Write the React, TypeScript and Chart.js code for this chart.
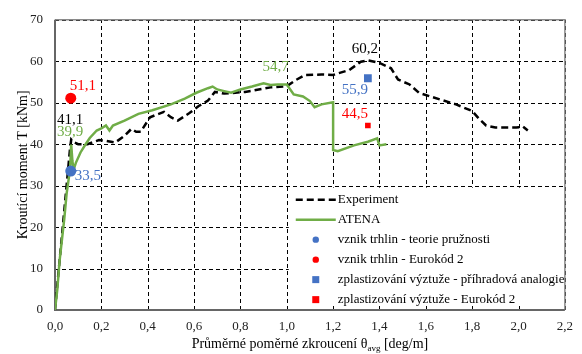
import { useEffect, useRef } from "react";
import { Chart, registerables } from "chart.js";

Chart.register(...registerables);

// ---- data ----
const experimentX = [0, 0.02, 0.04, 0.055, 0.065, 0.07, 0.08, 0.1, 0.14, 0.19, 0.22, 0.26, 0.3, 0.33, 0.35, 0.37, 0.41, 0.47, 0.5, 0.53, 0.58, 0.62, 0.66, 0.69, 0.73, 0.82, 0.93, 1.0, 1.04, 1.08, 1.15, 1.2, 1.27, 1.32, 1.35, 1.4, 1.45, 1.48, 1.53, 1.57, 1.62, 1.66, 1.73, 1.8, 1.83, 1.86, 1.9, 1.99, 2.02, 2.04];
const experimentY = [0, 12, 24, 33, 39, 41.1, 40.5, 40, 40, 41, 40.8, 40.4, 42, 43.7, 43, 43, 46.5, 47.8, 46.5, 45.7, 47.5, 49.2, 50.5, 52.6, 52.2, 52.6, 53.7, 54, 55.5, 56.7, 56.8, 56.7, 57.9, 59.9, 60.2, 59.6, 58.3, 55.6, 54.4, 52.4, 51.5, 50.8, 49.6, 48, 46.1, 44.5, 44, 44, 44.2, 43.3];

const atenaX = [0, 0.01, 0.02, 0.03, 0.04, 0.05, 0.06, 0.065, 0.07, 0.075, 0.08, 0.09, 0.11, 0.13, 0.15, 0.18, 0.2, 0.22, 0.235, 0.25, 0.3, 0.36, 0.42, 0.5, 0.56, 0.61, 0.66, 0.68, 0.7, 0.73, 0.76, 0.8, 0.85, 0.9, 0.93, 0.96, 1.0, 1.03, 1.07, 1.1, 1.12, 1.15, 1.2, 1.2, 1.22, 1.29, 1.35, 1.39, 1.4, 1.43];
const atenaY = [0, 5, 12, 17, 22, 28, 32, 34, 39.9, 36, 33.8, 35.5, 38, 39.8, 41.5, 43.3, 43.8, 44.5, 43.3, 44.5, 45.7, 47.3, 48.2, 49.6, 51, 52.4, 53.5, 53.9, 53.2, 52.8, 52.4, 53.2, 53.9, 54.7, 54.3, 54.4, 54.4, 52, 51.5, 50.4, 48.9, 49.6, 50.1, 38.6, 38.3, 39.7, 40.6, 41.4, 39.7, 40];

const seriesNames = ["Experiment", "ATENA"];
const markerNames = [
  "vznik trhlin - teorie pružnosti",
  "vznik trhlin - Eurokód 2",
  "zplastizování výztuže - příhradová analogie",
  "zplastizování výztuže - Eurokód 2",
];
const markerX = [0.068, 0.068, 1.35, 1.35];
const markerY = [33.5, 51.1, 55.9, 44.5];

const labelTexts = ["41,1", "39,9", "33,5", "51,1", "54,7", "60,2", "55,9", "44,5"];
const labelX = [0.07, 0.07, 0.068, 0.068, 0.9, 1.35, 1.35, 1.35];
const labelY = [41.1, 39.9, 33.5, 51.1, 54.7, 60.2, 55.9, 44.5];

const xTitle = "Průměrné poměrné zkroucení θ";
const xTitleSub = "avg";
const xTitleEnd = " [deg/m]";
const yTitle = "Kroutící moment T [kNm]";

// ---- styles ----
const GREEN = "#70AD47";
const BLUE = "#4472C4";
const RED = "#FF0000";
const FONT = "'Liberation Serif', 'Times New Roman', serif";
const markerColors = [BLUE, RED, BLUE, RED];
const markerStyles = ["circle", "circle", "rect", "rect"];
const markerRadii = [5.5, 5.5, 5.5, 4];
const labelColors = ["#000", GREEN, BLUE, RED, GREEN, "#000", BLUE, RED];
// pixel offsets of label centres from their anchor values
const labelDx = [-1, -1, 17, 12, 12, -3, -13, -13];
const labelDy = [-20, -13, 5, -12, -16, -11, 12, -11];

const overlayPlugin = {
  id: "overlay",
  beforeDatasetsDraw(chart: any) {
    const { ctx, chartArea: a, scales } = chart;
    const xs = scales.x;
    const ys = scales.y;
    ctx.save();
    // dashed grid
    ctx.strokeStyle = "#000";
    ctx.lineWidth = 1;
    ctx.setLineDash([4, 3]);
    xs.ticks.forEach((t: any) => {
      if (t.value <= 0) return;
      const px = Math.round(xs.getPixelForValue(t.value)) + 0.5;
      ctx.beginPath();
      ctx.moveTo(px, a.bottom);
      ctx.lineTo(px, a.top);
      ctx.stroke();
    });
    ys.ticks.forEach((t: any) => {
      if (t.value <= 0) return;
      const py = Math.round(ys.getPixelForValue(t.value)) + 0.5;
      ctx.beginPath();
      ctx.moveTo(a.left, py);
      ctx.lineTo(a.right, py);
      ctx.stroke();
    });
    // frame
    ctx.setLineDash([]);
    ctx.strokeStyle = "#8a8a8a";
    ctx.lineWidth = 1.5;
    ctx.beginPath();
    ctx.moveTo(a.left, a.top);
    ctx.lineTo(a.right, a.top);
    ctx.lineTo(a.right, a.bottom);
    ctx.stroke();
    ctx.strokeStyle = "#666";
    ctx.lineWidth = 2;
    ctx.beginPath();
    ctx.moveTo(a.left, a.top);
    ctx.lineTo(a.left, a.bottom);
    ctx.lineTo(a.right, a.bottom);
    ctx.stroke();
    ctx.restore();
  },
  afterDatasetsDraw(chart: any) {
    const { ctx, chartArea: a, scales } = chart;
    const xs = scales.x;
    const ys = scales.y;
    ctx.save();

    // legend box
    const lx = xs.getPixelForValue(1.0) + 2;
    const ly = ys.getPixelForValue(30) + 2;
    const lw = a.right - 1 - lx;
    const lh = a.bottom - 5 - ly;
    ctx.fillStyle = "#fff";
    ctx.fillRect(lx, ly, lw, lh);

    const rowH = 20;
    const firstY = ly + 12;
    const sampleL = lx + 7;
    const sampleR = lx + 47;
    const textX = lx + 49;
    ctx.font = `13px ${FONT}`;
    ctx.textBaseline = "middle";
    ctx.textAlign = "left";
    // Experiment
    ctx.strokeStyle = "#000";
    ctx.lineWidth = 2.5;
    ctx.setLineDash([7, 4]);
    ctx.beginPath();
    ctx.moveTo(sampleL, firstY);
    ctx.lineTo(sampleR, firstY);
    ctx.stroke();
    ctx.setLineDash([]);
    ctx.fillStyle = "#000";
    ctx.fillText(seriesNames[0], textX, firstY);
    // ATENA
    ctx.strokeStyle = GREEN;
    ctx.beginPath();
    ctx.moveTo(sampleL, firstY + rowH);
    ctx.lineTo(sampleR, firstY + rowH);
    ctx.stroke();
    ctx.fillText(seriesNames[1], textX, firstY + rowH);
    // markers
    const mx = (sampleL + sampleR) / 2;
    markerNames.forEach((name, i) => {
      const yy = firstY + rowH * (i + 2);
      ctx.fillStyle = markerColors[i];
      if (markerStyles[i] === "circle") {
        ctx.beginPath();
        ctx.arc(mx, yy, 3.2, 0, Math.PI * 2);
        ctx.fill();
      } else {
        ctx.fillRect(mx - 3.5, yy - 3.5, 7, 7);
      }
      ctx.fillStyle = "#000";
      ctx.fillText(name, textX, yy);
    });

    // value labels
    ctx.font = `15px ${FONT}`;
    ctx.textAlign = "center";
    labelTexts.forEach((t, i) => {
      const px = xs.getPixelForValue(labelX[i]) + labelDx[i];
      const py = ys.getPixelForValue(labelY[i]) + labelDy[i];
      ctx.fillStyle = labelColors[i];
      ctx.fillText(t, px, py);
    });

    // axis titles
    ctx.fillStyle = "#000";
    ctx.font = `14px ${FONT}`;
    ctx.save();
    ctx.translate(23, (a.top + a.bottom) / 2);
    ctx.rotate(-Math.PI / 2);
    ctx.textAlign = "center";
    ctx.textBaseline = "middle";
    ctx.fillText(yTitle, 0, 0);
    ctx.restore();

    ctx.textBaseline = "alphabetic";
    ctx.textAlign = "left";
    const w1 = ctx.measureText(xTitle).width;
    ctx.font = `9px ${FONT}`;
    const w2 = ctx.measureText(xTitleSub).width;
    ctx.font = `14px ${FONT}`;
    const w3 = ctx.measureText(xTitleEnd).width;
    const total = w1 + w2 + w3;
    const cx = (a.left + a.right) / 2;
    let tx = cx - total / 2;
    const base = a.bottom + 38;
    ctx.fillText(xTitle, tx, base);
    tx += w1;
    ctx.font = `9px ${FONT}`;
    ctx.fillText(xTitleSub, tx, base + 3);
    tx += w2;
    ctx.font = `14px ${FONT}`;
    ctx.fillText(xTitleEnd, tx, base);

    ctx.restore();
  },
};

export default function App() {
  const ref = useRef<HTMLCanvasElement | null>(null);

  useEffect(() => {
    if (!ref.current) return;
    const expPts = experimentX.map((x, i) => ({ x, y: experimentY[i] }));
    const atPts = atenaX.map((x, i) => ({ x, y: atenaY[i] }));
    const markerSets = markerNames.map((name, i) => ({
      type: "scatter" as const,
      label: name,
      data: [{ x: markerX[i], y: markerY[i] }],
      pointStyle: markerStyles[i],
      pointRadius: markerRadii[i],
      backgroundColor: markerColors[i],
      borderColor: markerColors[i],
      borderWidth: 0,
      showLine: false,
      order: 0,
    }));

    const tickFmt = (v: any) => Number(v).toFixed(1).replace(".", ",");

    const chart = new Chart(ref.current, {
      type: "line",
      data: {
        datasets: [
          {
            label: seriesNames[0],
            data: expPts,
            borderColor: "#000",
            borderWidth: 2.5,
            borderDash: [7, 4],
            pointRadius: 0,
            fill: false,
            tension: 0,
            order: 2,
          },
          {
            label: seriesNames[1],
            data: atPts,
            borderColor: GREEN,
            borderWidth: 2.5,
            pointRadius: 0,
            fill: false,
            tension: 0,
            order: 1,
          },
          ...markerSets,
        ] as any,
      },
      options: {
        animation: false,
        responsive: false,
        devicePixelRatio: 1,
        layout: { padding: { left: 0, top: 14, right: 12, bottom: 0 } },
        plugins: { legend: { display: false }, tooltip: { enabled: false } },
        scales: {
          x: {
            type: "linear",
            min: 0,
            max: 2.2,
            ticks: {
              stepSize: 0.2,
              callback: tickFmt,
              font: { family: FONT, size: 13 },
              color: "#222",
              padding: 9,
              maxRotation: 0,
              autoSkip: false,
            },
            grid: { display: false, drawTicks: false },
            border: { display: false },
            afterFit: (s: any) => {
              s.height = 44;
            },
          },
          y: {
            type: "linear",
            min: 0,
            max: 70,
            ticks: {
              stepSize: 10,
              font: { family: FONT, size: 13 },
              color: "#222",
              padding: 12,
            },
            grid: { display: false, drawTicks: false },
            border: { display: false },
            afterFit: (s: any) => {
              s.width = 55;
            },
          },
        },
      } as any,
      plugins: [overlayPlugin],
    });
    return () => chart.destroy();
  }, []);

  return (
    <div style={{ position: "fixed", left: 0, top: 0, width: 582, height: 354, background: "#fff" }}>
      <canvas ref={ref} width={582} height={354} />
    </div>
  );
}
